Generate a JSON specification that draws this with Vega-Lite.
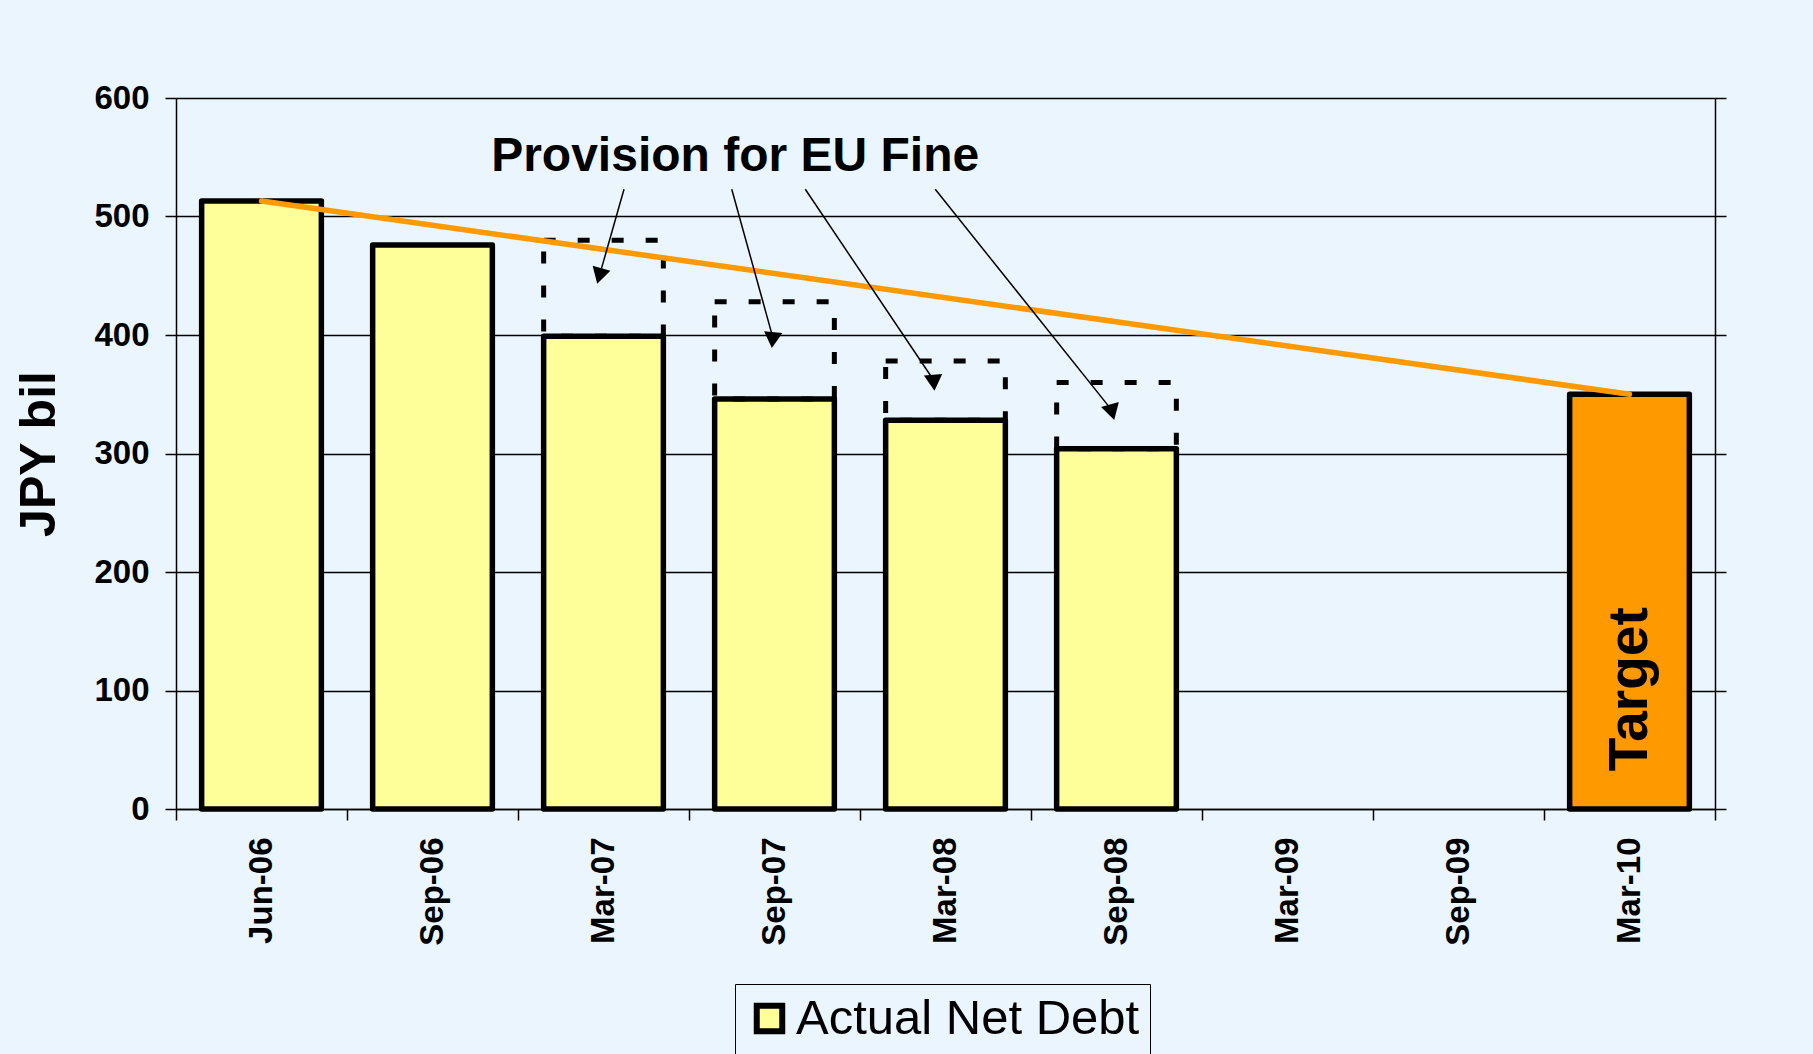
{
  "$schema": "https://vega.github.io/schema/vega-lite/v6.json",
  "width": 1539,
  "height": 711,
  "autosize": {"type": "none"},
  "padding": {"left": 176, "top": 98, "right": 98, "bottom": 245},
  "background": "#EBF5FE",
  "config": {
    "font": "Liberation Sans",
    "view": {"stroke": null}
  },
  "datasets": {
    "debt": [
      {"period": "Jun-06", "kind": "Actual Net Debt", "value": 513},
      {"period": "Sep-06", "kind": "Actual Net Debt", "value": 476},
      {"period": "Mar-07", "kind": "Actual Net Debt", "value": 399, "provision": 480},
      {"period": "Sep-07", "kind": "Actual Net Debt", "value": 346, "provision": 428},
      {"period": "Mar-08", "kind": "Actual Net Debt", "value": 328, "provision": 378},
      {"period": "Sep-08", "kind": "Actual Net Debt", "value": 304, "provision": 360},
      {"period": "Mar-10", "kind": "Target", "value": 350}
    ],
    "trend": [
      {"period": "Jun-06", "value": 513},
      {"period": "Mar-10", "value": 350}
    ],
    "arrows": [
      {"arrow": 1, "x1": 2.62, "y1": 523, "x2": 2.48, "y2": 452},
      {"arrow": 2, "x1": 3.25, "y1": 523, "x2": 3.49, "y2": 398},
      {"arrow": 3, "x1": 3.68, "y1": 523, "x2": 4.43, "y2": 362},
      {"arrow": 4, "x1": 4.44, "y1": 523, "x2": 5.47, "y2": 337}
    ],
    "label": [{"text": "Provision for EU Fine"}]
  },
  "resolve": {"scale": {"x": "independent"}, "axis": {"y": "independent"}},
  "layer": [
    {
      "layer": [
        {
          "data": {"name": "debt"},
          "mark": {"type": "bar", "stroke": "black", "strokeWidth": 5.5, "strokeJoin": "round", "width": {"band": 0.7}},
          "encoding": {
            "x": {
              "field": "period", "type": "ordinal",
              "scale": {
                "domain": ["Jun-06", "Sep-06", "Mar-07", "Sep-07", "Mar-08", "Sep-08", "Mar-09", "Sep-09", "Mar-10"],
                "paddingInner": 0, "paddingOuter": 0
              },
              "axis": {
                "title": null, "tickBand": "extent", "labelAngle": -90,
                "labelFontSize": 33, "labelFontWeight": "bold", "labelColor": "black",
                "labelPadding": 17, "tickSize": 11, "tickColor": "black", "tickWidth": 1.5,
                "domainColor": "black", "domainWidth": 1.5, "grid": false
              }
            },
            "y": {
              "field": "value", "type": "quantitative",
              "scale": {"domain": [0, 600], "nice": false},
              "axis": {
                "title": "JPY bil", "titleFontSize": 50, "titleFontWeight": "bold", "titleColor": "black",
                "titlePadding": 29,
                "values": [0, 100, 200, 300, 400, 500, 600],
                "labelFontSize": 33, "labelFontWeight": "bold", "labelColor": "black", "labelPadding": 16,
                "tickSize": 11, "tickColor": "black", "tickWidth": 1.5,
                "domainColor": "black", "domainWidth": 1.5,
                "grid": true, "gridColor": "black", "gridWidth": 1.5, "gridOpacity": 1
              }
            },
            "color": {
              "field": "kind", "type": "nominal",
              "scale": {"domain": ["Actual Net Debt", "Target"], "range": ["#FFFF99", "#FF9900"]},
              "legend": {
                "values": ["Actual Net Debt"], "title": null, "orient": "none",
                "legendX": 559, "legendY": 886,
                "strokeColor": "black", "fillColor": "#EBF5FE", "padding": 10,
                "symbolType": "square", "symbolSize": 650, "symbolStrokeColor": "black",
                "symbolStrokeWidth": 6, "symbolOpacity": 1,
                "labelFontSize": 49, "labelColor": "black", "labelLimit": 800, "labelOffset": 2
              }
            }
          }
        },
        {
          "data": {"name": "debt"},
          "transform": [{"filter": "isValid(datum.provision)"}],
          "mark": {"type": "bar", "fill": "transparent", "stroke": "black", "strokeWidth": 5, "strokeDash": [12, 22], "width": {"band": 0.7}},
          "encoding": {
            "x": {"field": "period", "type": "ordinal"},
            "y": {"field": "value", "type": "quantitative"},
            "y2": {"field": "provision"}
          }
        },
        {
          "data": {"name": "trend"},
          "mark": {"type": "line", "color": "#FF9900", "strokeWidth": 5.5, "strokeCap": "round"},
          "encoding": {
            "x": {"field": "period", "type": "ordinal"},
            "y": {"field": "value", "type": "quantitative"}
          }
        },
        {
          "data": {"name": "debt"},
          "transform": [{"filter": "datum.kind === 'Target'"}],
          "mark": {"type": "text", "angle": 270, "fontSize": 55, "fontWeight": "bold", "color": "black", "baseline": "middle", "align": "center"},
          "encoding": {
            "x": {"field": "period", "type": "ordinal"},
            "y": {"datum": 101, "type": "quantitative"},
            "text": {"field": "kind"}
          }
        }
      ]
    },
    {
      "layer": [
        {
          "data": {"name": "arrows"},
          "mark": {"type": "rule", "color": "black", "strokeWidth": 1.5},
          "encoding": {
            "x": {"field": "x1", "type": "quantitative", "scale": {"domain": [0, 9], "nice": false, "zero": false}, "axis": null},
            "y": {
              "field": "y1", "type": "quantitative",
              "axis": {
                "orient": "right", "title": null, "labels": false, "grid": false,
                "values": [0, 100, 200, 300, 400, 500, 600],
                "tickSize": 11, "tickColor": "black", "tickWidth": 1.5,
                "domainColor": "black", "domainWidth": 1.5
              }
            },
            "x2": {"field": "x2"},
            "y2": {"field": "y2"}
          }
        },
        {
          "data": {"name": "arrows"},
          "mark": {"type": "point", "shape": "triangle", "filled": true, "color": "black", "opacity": 1, "size": 340},
          "encoding": {
            "x": {"field": "x2", "type": "quantitative"},
            "y": {"field": "y2", "type": "quantitative"},
            "angle": {
              "field": "arrow", "type": "ordinal",
              "scale": {"domain": [1, 2, 3, 4], "range": [195.6, 164.5, 146.4, 141.1]},
              "legend": null
            }
          }
        },
        {
          "data": {"name": "label"},
          "mark": {"type": "text", "fontSize": 48, "fontWeight": "bold", "color": "black", "align": "center", "baseline": "middle"},
          "encoding": {
            "x": {"datum": 3.27, "type": "quantitative"},
            "y": {"datum": 550, "type": "quantitative"},
            "text": {"field": "text"}
          }
        }
      ]
    }
  ]
}
